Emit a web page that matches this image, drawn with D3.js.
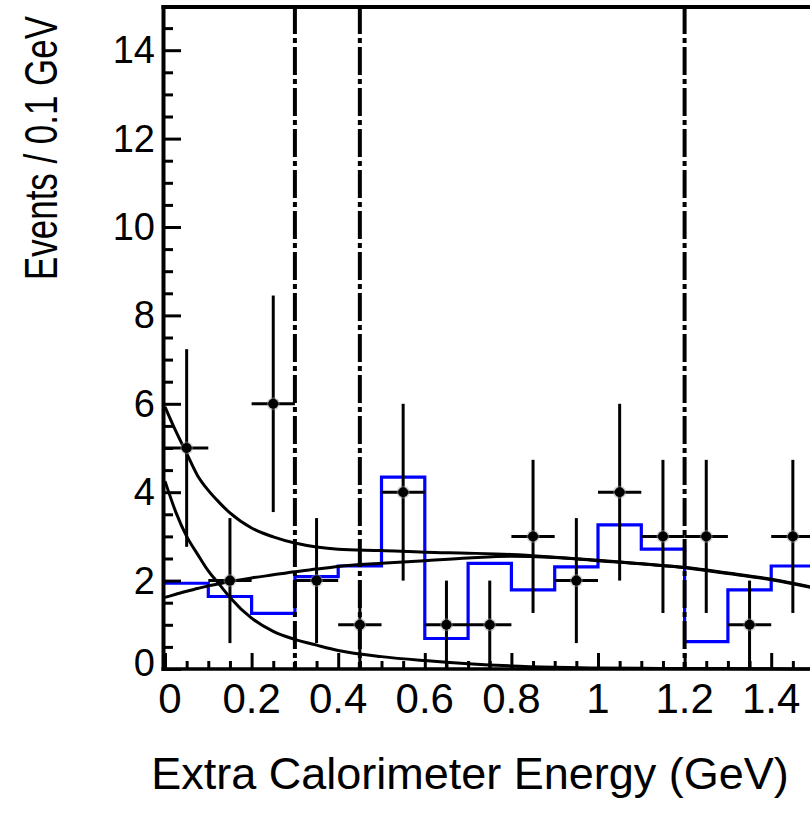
<!DOCTYPE html>
<html>
<head>
<meta charset="utf-8">
<script src="https://cdn.jsdelivr.net/npm/d3@7"></script>
<style>
  html, body { margin: 0; padding: 0; background: #fff; }
  svg { display: block; }
  text { font-family: "Liberation Sans", Arial, Helvetica, sans-serif; fill: #000; }
</style>
</head>
<body>
<svg id="chart" width="810" height="820"></svg>
<script>
// Observed events per 0.1 GeV bin (bin centres in GeV)
const binCenters = [0.05, 0.15, 0.25, 0.35, 0.45, 0.55, 0.65, 0.75, 0.85, 0.95, 1.05, 1.15, 1.25, 1.35, 1.45];
const dataCounts = [5, 2, 6, 2, 1, 4, 1, 1, 3, 2, 4, 3, 3, 1, 3];

// Simulated expectation per bin (blue histogram)
const binEdges = [0, 0.1, 0.2, 0.3, 0.4, 0.5, 0.6, 0.7, 0.8, 0.9, 1.0, 1.1, 1.2, 1.3, 1.4, 1.5];
const mcCounts = [1.94, 1.64, 1.26, 2.09, 2.33, 4.34, 0.69, 2.39, 1.79, 2.31, 3.26, 2.71, 0.62, 1.79, 2.33];

// Fit components sampled along the energy axis
const curveX     = [0, 0.025, 0.05, 0.075, 0.1, 0.125, 0.15, 0.2, 0.25, 0.3, 0.35, 0.4, 0.5, 0.6, 0.7, 0.8, 0.9, 1.0, 1.1, 1.2, 1.3, 1.4, 1.5];
const totalFit   = [5.93, 5.38, 4.88, 4.38, 4.04, 3.77, 3.53, 3.19, 2.99, 2.85, 2.76, 2.71, 2.68, 2.64, 2.62, 2.59, 2.53, 2.46, 2.38, 2.30, 2.17, 2.03, 1.84];
const backgroundFit = [1.62, 1.69, 1.76, 1.82, 1.88, 1.93, 1.98, 2.06, 2.13, 2.20, 2.26, 2.32, 2.39, 2.45, 2.51, 2.55, 2.52, 2.45, 2.38, 2.29, 2.16, 2.02, 1.83];
const peakFit    = [4.25, 3.55, 3.00, 2.60, 2.22, 1.92, 1.62, 1.15, 0.85, 0.67, 0.54, 0.42, 0.28, 0.19, 0.12, 0.07, 0.04, 0.02, 0.015, 0.01, 0.01, 0.005, 0.0];

// Signal-region boundaries (GeV)
const cutLines = [0.3, 0.45, 1.2];

// Axis ticks
const xMajorTicks = [0, 0.2, 0.4, 0.6, 0.8, 1.0, 1.2, 1.4];
const xTickLabels = ["0", "0.2", "0.4", "0.6", "0.8", "1", "1.2", "1.4"];
const yMajorTicks = [0, 2, 4, 6, 8, 10, 12, 14];
const yTickLabels = ["0", "2", "4", "6", "8", "10", "12", "14"];

const xTitle = "Extra Calorimeter Energy (GeV)";
const yTitle = "Events / 0.1 GeV";

const svg = d3.select("#chart");
svg.append("rect").attr("width", 810).attr("height", 820).attr("fill", "#fff");

const x = d3.scaleLinear().domain([0, 1.5]).range([165, 814.5]);
const y = d3.scaleLinear().domain([0, 15]).range([669, 6]);

const plot = svg.append("g");

// Expected distribution as a step histogram
const stepPts = [];
mcCounts.forEach((v, i) => {
  stepPts.push([binEdges[i], v]);
  stepPts.push([binEdges[i + 1], v]);
});
plot.append("path")
  .datum(stepPts)
  .attr("fill", "none")
  .attr("stroke", "#0000ff")
  .attr("stroke-width", 3.2)
  .attr("d", d3.line().x(d => x(d[0])).y(d => y(d[1])));

// Fit curves
const curveLine = d3.line().x(d => x(d[0])).y(d => y(d[1])).curve(d3.curveMonotoneX);
[totalFit, backgroundFit, peakFit].forEach(series => {
  plot.append("path")
    .datum(curveX.map((cx, i) => [cx, series[i]]))
    .attr("fill", "none")
    .attr("stroke", "#000")
    .attr("stroke-width", 3)
    .attr("d", curveLine);
});

// Data points with statistical error bars
const pts = plot.append("g");
binCenters.forEach((c, i) => {
  const n = dataCounts[i];
  const err = Math.sqrt(n);
  pts.append("line")
    .attr("x1", x(c)).attr("x2", x(c))
    .attr("y1", y(n + err)).attr("y2", y(Math.max(0, n - err)))
    .attr("stroke", "#000").attr("stroke-width", 3);
  pts.append("line")
    .attr("x1", x(c - 0.05)).attr("x2", x(c + 0.05))
    .attr("y1", y(n)).attr("y2", y(n))
    .attr("stroke", "#000").attr("stroke-width", 3);
  pts.append("circle")
    .attr("cx", x(c)).attr("cy", y(n)).attr("r", 6.5)
    .attr("fill", "#9a9a9a").attr("opacity", 0.45);
  pts.append("circle")
    .attr("cx", x(c)).attr("cy", y(n)).attr("r", 5)
    .attr("fill", "#000");
});

// Cut boundaries
plot.selectAll("line.cut")
  .data(cutLines)
  .join("line")
  .attr("class", "cut")
  .attr("x1", d => x(d)).attr("x2", d => x(d))
  .attr("y1", y(15)).attr("y2", y(0))
  .attr("stroke", "#000")
  .attr("stroke-width", 4)
  .attr("stroke-dasharray", "28,4,5,4");

// Axes: ticks point into the frame
const xMinor = d3.range(0, 31).map(i => i * 0.05).filter(v => !xMajorTicks.some(m => Math.abs(m - v) < 1e-6));
const yMinor = d3.range(0, 31).map(i => i * 0.5).filter(v => !yMajorTicks.some(m => Math.abs(m - v) < 1e-6));

const xAxisMajor = svg.append("g").attr("transform", `translate(0,${y(0)})`)
  .call(d3.axisBottom(x).tickValues(xMajorTicks).tickSize(-16).tickFormat(""));
const xAxisMinor = svg.append("g").attr("transform", `translate(0,${y(0)})`)
  .call(d3.axisBottom(x).tickValues(xMinor).tickSize(-8).tickFormat(""));
const yAxisMajor = svg.append("g").attr("transform", `translate(${x(0)},0)`)
  .call(d3.axisLeft(y).tickValues(yMajorTicks).tickSize(-16).tickFormat(""));
const yAxisMinor = svg.append("g").attr("transform", `translate(${x(0)},0)`)
  .call(d3.axisLeft(y).tickValues(yMinor).tickSize(-8).tickFormat(""));

[xAxisMajor, xAxisMinor, yAxisMajor, yAxisMinor].forEach(g => {
  g.select(".domain").remove();
  g.selectAll(".tick line").attr("stroke", "#000").attr("stroke-width", 3);
});

// Frame lines
svg.append("line").attr("x1", x(0) - 1.5).attr("x2", x(0) - 1.5).attr("y1", y(15) - 1).attr("y2", y(0) + 2)
  .attr("stroke", "#000").attr("stroke-width", 4);
svg.append("line").attr("x1", x(0) - 3.5).attr("x2", 810).attr("y1", y(15) + 1).attr("y2", y(15) + 1)
  .attr("stroke", "#000").attr("stroke-width", 4);
svg.append("line").attr("x1", x(0) - 3.5).attr("x2", 810).attr("y1", y(0)).attr("y2", y(0))
  .attr("stroke", "#000").attr("stroke-width", 3.5);

// Tick labels
svg.append("g").selectAll("text")
  .data(yMajorTicks)
  .join("text")
  .attr("x", 155)
  .attr("y", d => y(d) + 13 - (d === 0 ? 6 : 0))
  .attr("text-anchor", "end")
  .attr("font-size", 38)
  .text((d, i) => yTickLabels[i]);

svg.append("g").selectAll("text")
  .data(xMajorTicks)
  .join("text")
  .attr("x", (d, i) => x(d) + (i === 0 ? 5 : 0))
  .attr("y", 713)
  .attr("text-anchor", "middle")
  .attr("font-size", 42)
  .text((d, i) => xTickLabels[i]);

// Axis titles
svg.append("text")
  .attr("x", 470).attr("y", 789)
  .attr("text-anchor", "middle")
  .attr("font-size", 45)
  .text(xTitle);

// Vertical title: glyphs stretched across the text direction
svg.append("text")
  .attr("transform", "translate(57,148) rotate(-90) scale(0.97,1.3)")
  .attr("text-anchor", "middle")
  .attr("font-size", 36)
  .text(yTitle);
</script>
</body>
</html>
